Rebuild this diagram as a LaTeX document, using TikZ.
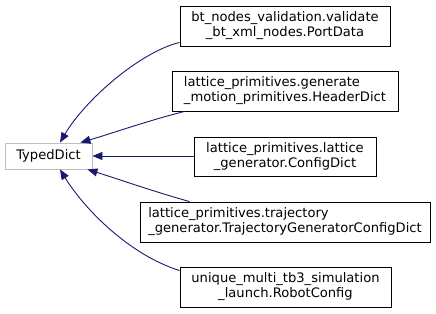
\documentclass[tikz,border=0pt]{standalone}
\usepackage{fontspec}
\setmainfont{DejaVu Sans}
\usetikzlibrary{arrows.meta}
\definecolor{edgeblue}{HTML}{191970}
\definecolor{graybox}{HTML}{BFBFBF}
\tikzset{
  cls/.style={draw=black, line width=0.9pt, inner sep=0pt, font=\fontsize{13.1}{15}\selectfont},
  base/.style={draw=graybox, line width=0.9pt, inner sep=0pt, font=\fontsize{13.1}{15}\selectfont},
  inh/.style={draw=edgeblue, line width=0.9pt, -{Triangle[length=10pt,width=8pt,fill=edgeblue]}}
}
\begin{document}
\begin{tikzpicture}[x=1pt,y=-1pt]
\useasboundingbox (0,0) rectangle (436,313);
\node[base, minimum width=87pt, minimum height=26pt] (td) at (48.5,156) {TypedDict};
\node[cls, minimum width=210pt, minimum height=40pt, align=center] (n1) at (285,26) {bt\_nodes\_validation.validate\\\_bt\_xml\_nodes.PortData};
\node[cls, minimum width=226pt, minimum height=40pt, align=left] (n2) at (285,91) {lattice\_primitives.generate\\\_motion\_primitives.HeaderDict};
\node[cls, minimum width=182pt, minimum height=39pt, align=center] (n3) at (285,156.5) {lattice\_primitives.lattice\\\_generator.ConfigDict};
\node[cls, minimum width=290pt, minimum height=40pt, align=left] (n4) at (285,222) {lattice\_primitives.trajectory\\\_generator.TrajectoryGeneratorConfigDict};
\node[cls, minimum width=211pt, minimum height=40pt, align=center] (n5) at (285.5,287) {unique\_multi\_tb3\_simulation\\\_launch.RobotConfig};
\draw[inh] ([yshift=4pt]n1.south west) .. controls (140,52) and (85,100) .. ([xshift=11.5pt]td.north);
\draw[inh] ([xshift=13pt]n2.south west) .. controls (150,120) and (110,134) .. ([xshift=-12pt]td.north east);
\draw[inh] (n3.west |- td.east) -- (td.east);
\draw[inh] ([xshift=50pt]n4.north west) .. controls (155,192) and (115,178) .. ([xshift=-5pt]td.south east);
\draw[inh] ([yshift=-4pt]n5.north west) .. controls (130,255) and (85,210) .. ([xshift=11.5pt]td.south);
\end{tikzpicture}
\end{document}
